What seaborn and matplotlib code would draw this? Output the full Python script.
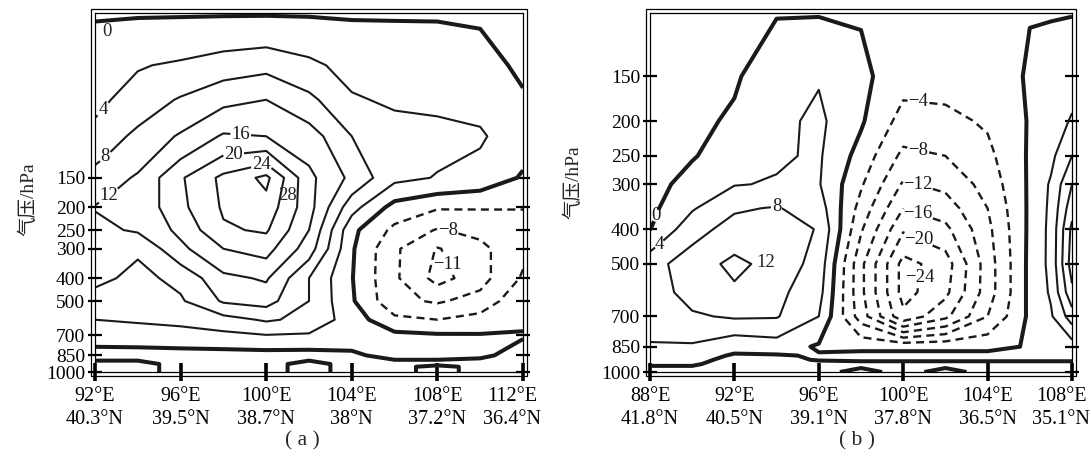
import numpy as np
import matplotlib
matplotlib.use("Agg")
import matplotlib.pyplot as plt
import matplotlib.transforms as mtransforms
from matplotlib.patches import Rectangle
from matplotlib.ticker import NullLocator, NullFormatter
import seaborn as sns

# ---------------- panel (a): section 92E/40.3N -> 112E/36.4N ----------------
lon_a = [92, 94, 96, 98, 100, 102, 104, 106, 108, 110, 112]
lev_a = [1000, 950, 925, 850, 700, 600, 500, 400, 300, 250, 200, 150, 100, 70, 50, 30]
w_a = [
    [1, 1, -1, -1, -1, 1, -1, -1, 1, -1, -1],                        # 1000
    [1, 1, -1, -1, -1, 1, -1, -1, 1, -1, -1],                        # 950
    [1, 1, -1, -1, -1, 1, -1, -1, -1, -1, -1],                       # 925
    [-1.5, -1.5, -1.5, -1.5, -1.5, -1.5, -0.5, 1, 1, 0.5, -1],       # 850
    [1.8, 2, 2.5, 3, 3.8, 3.5, 1.5, 1, 0.5, 0.3, 0.2],               # 700
    [4, 4.5, 5, 6.5, 8.5, 7, 2, -3, -4, -2.5, -0.5],                 # 600
    [6.4, 6.5, 7.5, 12.5, 13.5, 8, 0.5, -7, -8.5, -6.5, -1],         # 500
    [9, 7, 9, 15, 16.5, 8, 0.2, -7.5, -12, -9.5, -3.5],              # 400
    [10.5, 8.5, 15, 20, 21.5, 14, 0.5, -7.5, -11.2, -9, -5],         # 300
    [11, 12.5, 17, 23.5, 24.5, 16, 1, -5, -8.3, -7, -5],             # 250
    [12.2, 13, 19, 24.5, 26.5, 17.5, 5.5, -1.5, -3.6, -3.7, -3.9],   # 200
    [9.5, 12.5, 19.5, 25, 29, 17, 11, 5, 3.8, 2.5, -0.4],            # 150
    [5.2, 9, 12.5, 16.5, 16, 14, 8, 6, 5, 4.5, 1.5],                 # 100
    [3.0, 5.7, 8.4, 11, 12, 9, 4.5, 3.3, 3.3, 2.8, 0.5],             # 70
    [2.0, 3.7, 4.6, 6, 6.9, 5, 2.5, 2.2, 2, 1.5, -0.8],              # 50
    [-0.3, -0.3, -0.3, -0.3, -0.3, -0.3, -0.3, -0.3, -0.3, -0.5, -2],  # 30
]
xticks_a = [92, 96, 100, 104, 108, 112]
xlabels_a = ["92°E\n40.3°N", "96°E\n39.5°N", "100°E\n38.7°N",
             "104°E\n38°N", "108°E\n37.2°N", "112°E\n36.4°N"]
levels_a = [-11, -8, -4, 0, 4, 8, 12, 16, 20, 24, 28]

# ---------------- panel (b): section 88E/41.8N -> 108E/35.1N ----------------
lon_b = [88, 90, 92, 94, 96, 98, 100, 102, 104, 106, 107, 108]
lev_b = [1000, 950, 925, 900, 850, 700, 600, 500, 400, 350, 300, 250, 200, 150, 100]
w_b = [
    [-1, -1, -1, -1, -1, 1, -1, 1, -1, -1, -1, -1],                  # 1000
    [0.3, 0.3, -1, -1, -1, -1, -1, -1, -1, -1, -1, -1],              # 950
    [0.8, 0.8, -0.8, -0.8, 0.2, 0.5, 0.5, 0.5, 0.5, 0.5, 0.5, 0.5],  # 925
    [1.2, 1.2, -0.3, -0.3, 0.3, 1, 1, 1, 1, 1, 1, 1],                # 900
    [3.8, 3.5, 1, 2, -0.5, -1, -1, -1, -1, 0.3, 0.8, 2],             # 850
    [5, 7.5, 8.5, 8.3, 4, -10, -23, -17, -8, 0.8, 3.5, 10],          # 700
    [6, 9.5, 11.3, 9, 5.5, -11, -25.5, -21, -10, 1, 4.5, 15],        # 600
    [6.5, 10, 13, 10.5, 6.5, -11, -25.5, -22, -10, 1, 5, 18],        # 500
    [-0.1, 6.5, 9.5, 9.5, 7.8, -7.5, -19.5, -17, -9, 0.8, 5, 17],    # 400
    [-1, 3.6, 7.5, 8.3, 6, -5.5, -16, -14, -8, 0.7, 4.8, 14.5],      # 350
    [-1.5, 1.5, 3.8, 4.3, 4.3, -3.5, -12.5, -11, -6.5, 0.6, 4.5, 12],  # 300
    [-1.8, -0.3, 2, 3.5, 4.5, -1.5, -9, -8, -5, 0.5, 3, 8],          # 250
    [-2.5, -1, 0.6, 3, 4.8, 0.5, -5.5, -5, -3.5, 0.3, 1.5, 4.5],     # 200
    [-3, -2, -0.5, 2.5, 3.7, 1, -2.5, -2.5, -2, 0.4, 0.8, 2],        # 150
    [-2, -1.5, -0.5, -0.2, -0.2, -0.3, -1, -1, -1, -0.1, -0.1, -0.1],  # 100
]
xticks_b = [88, 92, 96, 100, 104, 108]
xlabels_b = ["88°E\n41.8°N", "92°E\n40.5°N", "96°E\n39.1°N",
             "100°E\n37.8°N", "104°E\n36.5°N", "108°E\n35.1°N"]
levels_b = [-24, -20, -16, -12, -8, -4, 0, 4, 8, 12, 16]

yticks = [1000, 850, 700, 500, 400, 300, 250, 200, 150]

# where the inline contour labels sit (lon, hPa, level)
labs_a = [(92.5, 100, 4), (92.6, 140, 8), (92.8, 200, 12), (98.8, 113, 16),
          (98.5, 143, 20), (99.8, 143, 24), (108.4, 269, -8), (108.75, 343, -11)]
labs_b = [(88.65, 375, 0), (88.7, 455, 4), (94, 344, 8), (100.7, 203, -4),
          (100.7, 245, -8), (100.7, 296, -12), (100.7, 362, -16),
          (100.7, 430, -20), (100.7, 545, -24)]

sns.set_theme(style="white", rc={"axes.edgecolor": "black", "axes.linewidth": 0.9,
                                 "xtick.color": "black", "ytick.color": "black"})
plt.rcParams["font.family"] = ["Liberation Serif", "Noto Sans CJK SC"]
plt.rcParams["axes.unicode_minus"] = True

fig = plt.figure(figsize=(10.91, 4.73), dpi=100)
ax_a = fig.add_axes([95 / 1091, 101 / 473, 428 / 1091, 359 / 473])
ax_b = fig.add_axes([650 / 1091, 101 / 473, 422 / 1091, 359 / 473])


def fmt(v):
    return f"{v:.0f}".replace("-", "\u2212")


def draw(ax, lon, lev, w, levels, ptop, xticks, xlabels, labs, w_px, lab_xy):
    X, P = np.meshgrid(lon, lev)
    W = np.array(w, dtype=float)
    sets = {}
    for v in levels:
        if v < 0:
            sets[v] = ax.contour(X, P, W, levels=[v], colors="k", linewidths=1.7,
                                 linestyles=[(0, (3.4, 2.2))])
        elif v == 0:
            sets[v] = ax.contour(X, P, W, levels=[v], colors="k", linewidths=2.9)
        else:
            sets[v] = ax.contour(X, P, W, levels=[v], colors="k", linewidths=1.5)
    for x, p, v in labs:
        txts = ax.clabel(sets[v], manual=[(x, p)], inline=True,
                         inline_spacing=1, fmt=fmt, fontsize=13.5)
        for t in txts:
            t.set_rotation(0)

    ax.set_yscale("log")
    ax.set_ylim(1000, ptop)
    ax.set_xlim(lon[0], lon[-1])
    ax.set_yticks(yticks)
    ax.set_yticklabels([str(t) for t in yticks])
    ax.yaxis.set_minor_locator(NullLocator())
    ax.yaxis.set_minor_formatter(NullFormatter())
    ax.set_xticks(xticks)
    ax.set_xticklabels(xlabels, linespacing=1.3)
    ax.tick_params(axis="y", which="major", direction="inout", length=10, width=1.6,
                   left=True, right=True, labelsize=14, pad=2)
    ax.tick_params(axis="x", which="major", direction="inout", length=13, width=2.6,
                   bottom=True, top=False, labelsize=14.5, pad=4)
    # last label sits a little to the left of its tick
    last = ax.get_xticklabels()[-1]
    last.set_transform(last.get_transform() +
                       mtransforms.ScaledTranslation(-11 / 100, 0, fig.dpi_scale_trans))
    ax.set_ylabel("气压/hPa", fontsize=14)
    ax.yaxis.set_label_coords(*lab_xy)
    # second (outer) frame line
    dx, dy = 4 / w_px, 4 / 359
    ax.add_patch(Rectangle((-dx, -dy), 1 + 2 * dx, 1 + 2 * dy, transform=ax.transAxes,
                           fill=False, lw=0.9, ec="black", clip_on=False))


draw(ax_a, lon_a, lev_a, w_a, levels_a, 30, xticks_a, xlabels_a, labs_a, 428,
     (-0.135, 0.48))
draw(ax_b, lon_b, lev_b, w_b, levels_b, 100, xticks_b, xlabels_b, labs_b, 422,
     (-0.161, 0.53))

ax_a.text(92.55, 36, "0", fontsize=13.5, ha="center", va="center")
ax_a.text(101.0, 178, "28", fontsize=13.5, ha="center", va="center")
ax_b.text(93.5, 495, "12", fontsize=13.5, ha="center", va="center")

fig.text(302 / 1091, 1 - 441 / 473, "( a )", fontsize=15.5, ha="center", va="center")
fig.text(857 / 1091, 1 - 441 / 473, "( b )", fontsize=15.5, ha="center", va="center")

fig.savefig("out.png", dpi=100)
